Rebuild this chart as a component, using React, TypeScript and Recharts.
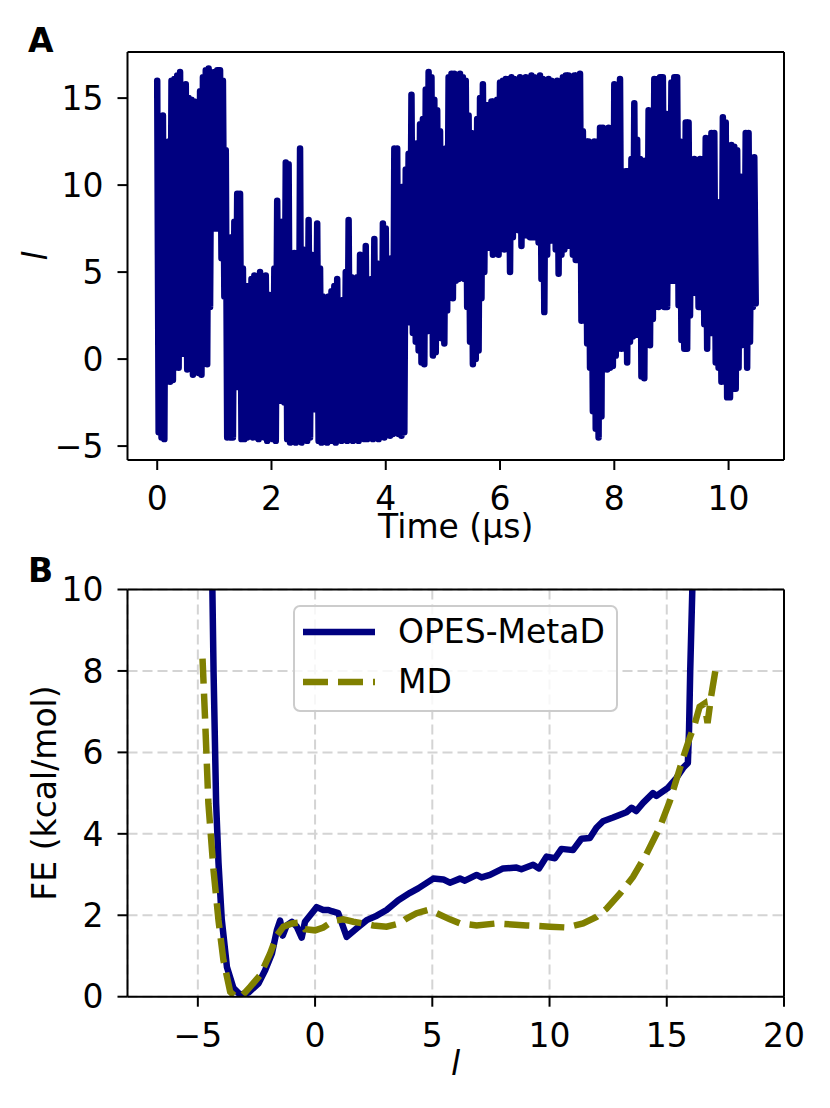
import React from 'react'
import { LineChart, Line, XAxis, YAxis, CartesianGrid, Legend, ReferenceLine } from 'recharts'

// Panel A: trajectory of l, read every 0.05 µs as the top and bottom of the trace
const sampleStepUs = 0.05
const trajHigh = [
  16.0, 12.0, 14.0, 12.3, 12.5, 16.0, 16.1, 16.3, 16.5, 15.5,
  15.8, 15.0, 14.9, 14.8, 11.0, 15.4, 16.2, 16.6, 16.7, 16.4,
  16.5, 16.6, 16.6, 16.0, 12.0, 3.6, 7.0, 7.9, 9.5, 9.5,
  5.2, 4.2, 4.2, 4.6, 4.8, 4.5, 5.0, 3.9, 4.8, 3.7,
  2.1, 5.2, 9.1, 7.9, 7.9, 11.3, 11.2, 2.8, 6.1, 4.3,
  12.1, 6.3, 5.9, 8.0, 6.0, 5.9, 7.8, 5.2, 3.6, 2.8,
  3.6, 3.9, 4.2, 4.6, 3.3, 3.4, 5.0, 8.0, 4.7, 4.6,
  4.7, 6.0, 5.2, 6.5, 4.2, 4.6, 6.9, 5.5, 5.0, 7.8,
  7.5, 5.2, 5.8, 12.1, 12.1, 5.2, 9.9, 10.9, 11.8, 15.2,
  12.0, 12.4, 13.5, 13.8, 15.5, 16.5, 16.2, 14.9, 14.3, 13.1,
  11.0, 12.1, 16.2, 16.4, 16.4, 16.3, 16.4, 16.2, 16.0, 14.0,
  13.0, 12.6, 13.8, 15.0, 15.8, 14.6, 14.6, 14.8, 14.8, 14.9,
  15.9, 16.0, 16.1, 16.1, 16.2, 16.1, 16.0, 16.2, 16.0, 16.2,
  16.1, 16.3, 16.2, 16.0, 16.3, 16.1, 16.0, 16.1, 16.0, 15.9,
  16.0, 15.9, 16.2, 16.3, 16.3, 16.2, 16.3, 16.3, 16.4, 13.1,
  12.5, 12.5, 8.5, 12.5, 12.5, 13.3, 13.3, 13.2, 13.3, 8.0,
  15.8, 12.9, 16.1, 10.0, 10.8, 10.8, 11.5, 14.7, 12.6, 11.5,
  11.4, 11.4, 14.3, 13.7, 16.1, 16.1, 16.2, 16.2, 14.1, 12.5,
  15.9, 16.2, 16.2, 12.5, 12.4, 13.6, 13.6, 11.4, 11.5, 10.6,
  11.5, 11.5, 12.7, 12.6, 13.0, 13.0, 9.0, 9.0, 13.9, 13.6,
  9.0, 12.3, 12.2, 12.0, 10.5, 10.0, 13.0, 13.0, 11.3, 11.6,
]
const trajLow = [
  -4.2, -4.5, -4.6, -0.6, -1.3, -1.2, 0.0, -0.5, 1.0, 0.3,
  -0.6, 2.0, -0.9, 0.5, -0.8, -0.9, 1.5, -0.3, 3.0, 9.3,
  7.5, 7.5, 5.8, 3.6, -4.5, -4.5, -4.5, -1.6, -1.6, -4.6,
  -4.6, -4.5, -4.4, -4.5, -4.4, -4.6, -4.4, -4.5, -4.7, -4.5,
  -4.6, -4.7, -2.4, -2.4, -2.5, -4.6, -4.8, -4.7, -4.8, -4.7,
  -4.8, -4.6, -4.7, -4.5, -2.8, -2.9, -4.7, -4.8, -4.7, -4.8,
  -4.7, -4.7, -4.8, -4.6, -4.7, -4.6, -4.7, -4.5, -4.7, -4.6,
  -4.7, -4.5, -4.6, -4.6, -4.5, -4.6, -4.5, -4.6, -4.4, -4.5,
  -3.4, -4.4, -4.3, -2.6, -4.3, -4.4, -4.2, 2.1, 2.5, 1.5,
  1.0, 0.5, -0.2, -0.3, 1.6, 2.0, 0.2, 0.4, 2.1, 1.2,
  0.9, 2.8, 3.6, 3.5, 4.5, 4.6, 4.7, 4.6, 3.0, 1.0,
  -0.3, 0.0, 0.5, 3.5, 5.0, 6.4, 6.4, 6.0, 6.2, 6.0,
  6.5, 6.3, 6.4, 5.0, 7.0, 8.0, 7.4, 6.5, 7.2, 7.1,
  7.0, 7.0, 7.0, 6.7, 4.6, 2.7, 6.0, 6.8, 8.0, 6.3,
  4.9, 6.0, 6.3, 6.5, 8.2, 6.0, 5.7, 5.7, 2.2, 3.5,
  0.9, -0.5, -3.0, -4.0, -4.5, -3.3, 0.3, -0.6, -0.5, -0.4,
  0.2, 0.8, 0.6, 1.3, -0.2, 1.0, 1.3, 1.4, 1.4, -1.0,
  -1.1, 1.0, 0.8, 2.3, 3.6, 3.0, 4.5, 3.0, 3.0, 4.5,
  4.5, 4.5, 3.1, 1.1, 0.6, 0.6, 2.5, 3.9, 3.8, 3.0,
  3.0, 2.0, 0.6, 1.5, 1.5, -0.2, -0.5, -1.3, -0.8, -2.2,
  -2.2, -1.7, -1.7, -0.5, 0.8, 1.5, -0.5, 1.0, 3.0, 3.2,
]

// Panel B: free energy profiles along l
const opesL = [
  -4.38, -4.33, -4.22, -4.12, -3.98, -3.76, -3.48, -3.2, -2.84, -2.41,
  -2.13, -1.84, -1.63, -1.49, -1.38, -1.21, -0.99, -0.78, -0.57, -0.43,
  -0.14, 0.07, 0.35, 0.57, 0.71, 0.99, 1.35, 1.78, 2.2, 2.63,
  3.05, 3.55, 4.05, 4.4, 5.04, 5.47, 5.75, 6.18, 6.39, 6.89,
  7.1, 7.46, 8.02, 8.59, 8.8, 9.3, 9.55, 9.87, 10.23, 10.51,
  11.0, 11.36, 11.72, 12.0, 12.28, 12.71, 13.28, 13.5, 13.7, 13.99,
  14.41, 14.56, 15.05, 15.41, 15.7, 15.9, 15.95, 16.0, 16.09,
]
const opesFE = [
  10.0, 8.0, 4.75, 3.3, 1.9, 0.73, 0.21, 0.05, 0.1, 0.33,
  0.65, 1.06, 1.63, 1.87, 1.5, 1.75, 1.84, 1.72, 1.45, 1.84,
  2.05, 2.2, 2.13, 2.13, 2.1, 2.05, 1.47, 1.68, 1.88, 1.99,
  2.13, 2.37, 2.55, 2.66, 2.9, 2.88, 2.8, 2.9, 2.85, 2.99,
  2.93, 2.99, 3.15, 3.17, 3.13, 3.24, 3.15, 3.44, 3.4, 3.63,
  3.6, 3.88, 3.9, 4.15, 4.31, 4.4, 4.53, 4.64, 4.56, 4.76,
  5.0, 4.93, 5.13, 5.37, 5.62, 5.74, 6.55, 8.0, 10.0,
]
const mdL = [
  -4.8, -4.69, -4.55, -4.33, -4.12, -3.91, -3.62, -3.4, -3.12, -2.77,
  -2.34, -1.92, -1.63, -1.35, -0.99, -0.64, -0.43, 0.0, 0.35, 0.77,
  1.2, 1.63, 2.06, 2.48, 3.05, 3.62, 3.9, 4.33, 4.83, 5.18,
  5.75, 6.18, 6.89, 7.74, 9.02, 10.01, 10.72, 11.43, 12.0, 12.43,
  13.0, 13.56, 14.13, 14.7, 15.13, 15.48, 15.77, 15.98, 16.19, 16.4,
  16.61, 16.74, 16.89, 17.1,
]
const mdFE = [
  8.3, 6.8, 4.75, 3.1, 1.88, 0.9, 0.12, 0.0, 0.02, 0.24,
  0.53, 1.06, 1.5, 1.72, 1.8, 1.82, 1.66, 1.63, 1.7, 1.86,
  1.9, 1.84, 1.8, 1.75, 1.72, 1.8, 1.92, 2.05, 2.13, 2.05,
  1.9, 1.8, 1.75, 1.8, 1.75, 1.72, 1.7, 1.8, 1.96, 2.16,
  2.53, 2.94, 3.5, 4.16, 4.8, 5.46, 6.0, 6.36, 6.69, 7.12,
  7.2, 6.72, 7.37, 8.1,
]

const timeTicks = [0, 2, 4, 6, 8, 10]
const lTicksA = [-5, 0, 5, 10, 15]
const lTicksB = [-5, 0, 5, 10, 15, 20]
const feTicks = [0, 2, 4, 6, 8, 10]

const timeDomain = [-0.52, 10.97]
const lDomainA = [-5.8, 17.65]
const lDomainB = [-8, 20]
const feDomain = [0, 10]

const NAVY = '#000080'
const OLIVE = '#808000'
const FONT = 'DejaVu Sans'
const MD_DASH = '25 10'

// each sample becomes a top point and a bottom point, so the thick line fills the band
const trajectory = trajHigh.flatMap((hi, i) => [
  { t: i * sampleStepUs, l: hi },
  { t: i * sampleStepUs + sampleStepUs / 2, l: trajLow[i] },
])
const opesData = opesL.map((l, i) => ({ l, fe: opesFE[i] }))
const mdData = mdL.map((l, i) => ({ l, fe: mdFE[i] }))

const fmt = (v: number) => (v < 0 ? `\u2212${Math.abs(v)}` : `${v}`)
const tickStyle = { fontSize: 33, fill: '#000', fontFamily: FONT }
const axisLine = { stroke: '#000', strokeWidth: 2 }

function FELegend() {
  const rows = [
    { label: 'OPES-MetaD', color: NAVY, dash: undefined as string | undefined },
    { label: 'MD', color: OLIVE, dash: MD_DASH },
  ]
  return (
    <div
      style={{
        width: 325,
        height: 107,
        boxSizing: 'border-box',
        border: '2px solid #cccccc',
        borderRadius: 7,
        background: 'rgba(255,255,255,0.8)',
        fontFamily: FONT,
        fontSize: 33,
        color: '#000',
        position: 'relative',
      }}
    >
      {rows.map((r, i) => (
        <div
          key={r.label}
          style={{ position: 'absolute', left: 0, top: 5 + i * 50, height: 40, display: 'flex', alignItems: 'center', whiteSpace: 'nowrap' }}
        >
          <svg width={98} height={40}>
            <line x1={8} x2={80} y1={20} y2={20} stroke={r.color} strokeWidth={6.5} strokeDasharray={r.dash} />
          </svg>
          <span style={{ marginLeft: 5, lineHeight: '40px' }}>{r.label}</span>
        </div>
      ))}
    </div>
  )
}

export default function App() {
  return (
    <div style={{ position: 'absolute', left: 0, top: 0, width: 830, height: 1108, background: '#fff', fontFamily: FONT }}>
      <div style={{ position: 'absolute', left: 0, top: 0 }}>
        <LineChart width={830} height={540} data={trajectory} margin={{ top: 52, right: 46, bottom: 30, left: 67.5 }}>
          <XAxis
            dataKey="t"
            type="number"
            domain={timeDomain}
            allowDataOverflow
            ticks={timeTicks}
            height={50}
            tickSize={10}
            tickMargin={17}
            tick={tickStyle}
            axisLine={axisLine}
            tickLine={axisLine}
          />
          <YAxis
            type="number"
            domain={lDomainA}
            allowDataOverflow
            ticks={lTicksA}
            width={60}
            tickSize={10}
            tickMargin={14}
            tick={tickStyle}
            tickFormatter={fmt}
            axisLine={axisLine}
            tickLine={axisLine}
          />
          <Line
            dataKey="l"
            type="linear"
            stroke={NAVY}
            strokeWidth={6.5}
            strokeLinejoin="round"
            strokeLinecap="round"
            dot={false}
            isAnimationActive={false}
          />
          {/* top and right spines */}
          <ReferenceLine y={lDomainA[1]} stroke="#000" strokeWidth={2} ifOverflow="visible" />
          <ReferenceLine x={timeDomain[1]} stroke="#000" strokeWidth={2} ifOverflow="visible" />
        </LineChart>
      </div>

      <div style={{ position: 'absolute', left: 0, top: 540 }}>
        <LineChart width={830} height={568} margin={{ top: 49.5, right: 46, bottom: 61.3, left: 67.5 }}>
          <CartesianGrid stroke="#d4d4d4" strokeWidth={2} strokeDasharray="10 5" />
          <XAxis
            dataKey="l"
            type="number"
            domain={lDomainB}
            allowDataOverflow
            ticks={lTicksB}
            height={50}
            tickSize={10}
            tickMargin={17}
            tick={tickStyle}
            tickFormatter={fmt}
            axisLine={axisLine}
            tickLine={axisLine}
          />
          <YAxis
            type="number"
            domain={feDomain}
            allowDataOverflow
            ticks={feTicks}
            width={60}
            tickSize={10}
            tickMargin={14}
            tick={tickStyle}
            axisLine={axisLine}
            tickLine={axisLine}
          />
          <Legend
            layout="horizontal"
            verticalAlign="middle"
            align="center"
            wrapperStyle={{ left: 293, top: 65, width: 325, height: 107 }}
            content={() => <FELegend />}
          />
          <Line
            data={opesData}
            dataKey="fe"
            type="linear"
            stroke={NAVY}
            strokeWidth={6.5}
            strokeLinejoin="round"
            dot={false}
            isAnimationActive={false}
          />
          <Line
            data={mdData}
            dataKey="fe"
            type="linear"
            stroke={OLIVE}
            strokeWidth={6.5}
            strokeDasharray={MD_DASH}
            dot={false}
            isAnimationActive={false}
          />
          <ReferenceLine y={feDomain[1]} stroke="#000" strokeWidth={2} ifOverflow="visible" />
          <ReferenceLine x={lDomainB[1]} stroke="#000" strokeWidth={2} ifOverflow="visible" />
        </LineChart>
      </div>

      <svg width={830} height={1108} style={{ position: 'absolute', left: 0, top: 0, pointerEvents: 'none' }}>
        <g fontFamily={FONT} fontSize={33} fill="#000">
          <text x={28} y={52} fontWeight="bold">A</text>
          <text x={28} y={582} fontWeight="bold">B</text>
          <text x={455.7} y={538} textAnchor="middle">Time (μs)</text>
          <text x={455.7} y={1075} textAnchor="middle" fontStyle="italic">l</text>
          <text transform="translate(47,256) rotate(-90)" textAnchor="middle" fontStyle="italic">l</text>
          <text transform="translate(56,793) rotate(-90)" textAnchor="middle">FE (kcal/mol)</text>
        </g>
      </svg>
    </div>
  )
}
